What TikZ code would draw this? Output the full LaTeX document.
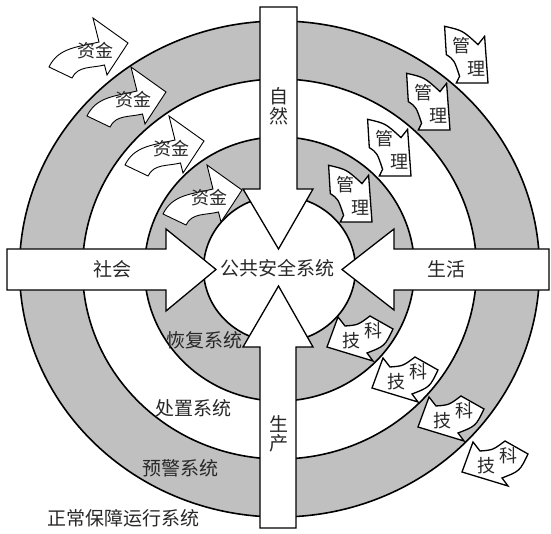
\documentclass[tikz,border=0pt]{standalone}
\usepackage{fontspec}
\setmainfont{Noto Sans CJK SC}
\definecolor{ringgray}{RGB}{192,192,192}
\definecolor{txt}{RGB}{40,40,40}
\tikzset{
  ring/.style={draw=black, line width=1.6pt},
  bigarrow/.style={draw=black, fill=white, line width=1.3pt, line join=miter},
  smallarrow/.style={draw=black, fill=white, line width=0.9pt, line join=miter},
  thickarrow/.style={draw=black, fill=white, line width=1.3pt, line join=miter},
  lbl/.style={font=\fontsize{19}{19}\selectfont, text=txt, inner sep=0pt},
  albl/.style={font=\fontsize{18}{18}\selectfont, text=txt, inner sep=0pt},
  pics/zjarrow/.style={code={
    \draw[smallarrow] (-47,-15) .. controls (-37.4,4.7) and (-18.25,4.7) .. (3,10)
      -- (-3,34) -- (32,9) -- (11,-23) -- (8.5,-13)
      .. controls (-4.8,-16.3) and (-18,-13.7) .. (-24,-26) -- cycle;
  }},
  pics/glarrow/.style={code={
    \draw[thickarrow] (0,0) -- (-31.7,0) -- (-28.4,6.7)
      .. controls (-33.8,23) .. (-41.7,28.4) -- (-43.4,56.7)
      .. controls (-25.5,52.6) .. (-10,38.4) -- (-3.4,46.7) -- cycle;
  }},
  pics/jkarrow/.style={code={
    \draw[thickarrow] (0,0) -- (11,30) -- (18,21)
      .. controls (31,22) .. (43,31) -- (66,18)
      .. controls (57.8,0.9) .. (40,-6) -- (46,-14) -- cycle;
  }}
}
\begin{document}
\begin{tikzpicture}[x=1pt,y=1pt]
\useasboundingbox (0,0) rectangle (551,534);
% rings
\draw[ring, fill=ringgray] (279.5,265) ellipse [x radius=260, y radius=248];
\draw[ring, fill=white] (279.5,265) ellipse [x radius=197, y radius=190];
\draw[ring, fill=ringgray] (279.5,265) ellipse [x radius=135, y radius=132];
\draw[ring, fill=white] (279.5,265) ellipse [x radius=76, y radius=73];
% small arrows: zijin
\foreach \k/\x/\y in {0/96/482,1/134/433,2/172/384,3/210/335}{
  \pic (zj\k) at (\x,\y) {zjarrow};
  \node[albl] (zjt\k) at (\x-0.5,\y+1) {资金};
}
% guanli (anchored at tip)
\foreach \k/\x/\y in {0/488/451,1/450/404,2/411/358,3/372/312}{
  \pic (gl\k) at (\x,\y) {glarrow};
  \node[albl] (gla\k) at (\x-27,\y+37) {管};
  \node[albl] (glb\k) at (\x-12,\y+14) {理};
}
% jike (anchored at tip)
\foreach \k/\x/\y in {0/327/187,1/372/146,2/418/107,3/462/62}{
  \pic (jk\k) at (\x,\y) {jkarrow};
  \node[albl] (jka\k) at (\x+24,\y+6) {技};
  \node[albl] (jkb\k) at (\x+46,\y+16) {科};
}
% big arrows
\draw[bigarrow] (260,527) -- (297,527) -- (297,345) -- (313,345) -- (278.5,285) -- (243,345) -- (260,345) -- cycle;
\draw[bigarrow] (260,6) -- (296,6) -- (296,187) -- (313,187) -- (278.5,248) -- (243,187) -- (260,187) -- cycle;
\draw[bigarrow] (7,285) -- (166,285) -- (166,305) -- (216,264.5) -- (166,223) -- (166,244) -- (7,244) -- cycle;
\draw[bigarrow] (549,285) -- (394,285) -- (394,305) -- (342,264.5) -- (394,224) -- (394,244) -- (549,244) -- cycle;
% labels
\node[lbl] (zr1) at (278.5,438) {自};
\node[lbl] (zr2) at (278.5,418) {然};
\node[lbl] (sc1) at (278.5,110) {生};
\node[lbl] (sc2) at (278.5,91) {产};
\node[lbl] (sh) at (112,264.5) {社会};
\node[lbl] (shh) at (446,264.5) {生活};
\node[lbl] (ggaq) at (277.5,266) {公共安全系统};
\node[lbl] (hf) at (204,194) {恢复系统};
\node[lbl] (cz) at (193,126) {处置系统};
\node[lbl] (yj) at (180,66) {预警系统};
\node[lbl] (zc) at (123,16) {正常保障运行系统};
\end{tikzpicture}
\end{document}
